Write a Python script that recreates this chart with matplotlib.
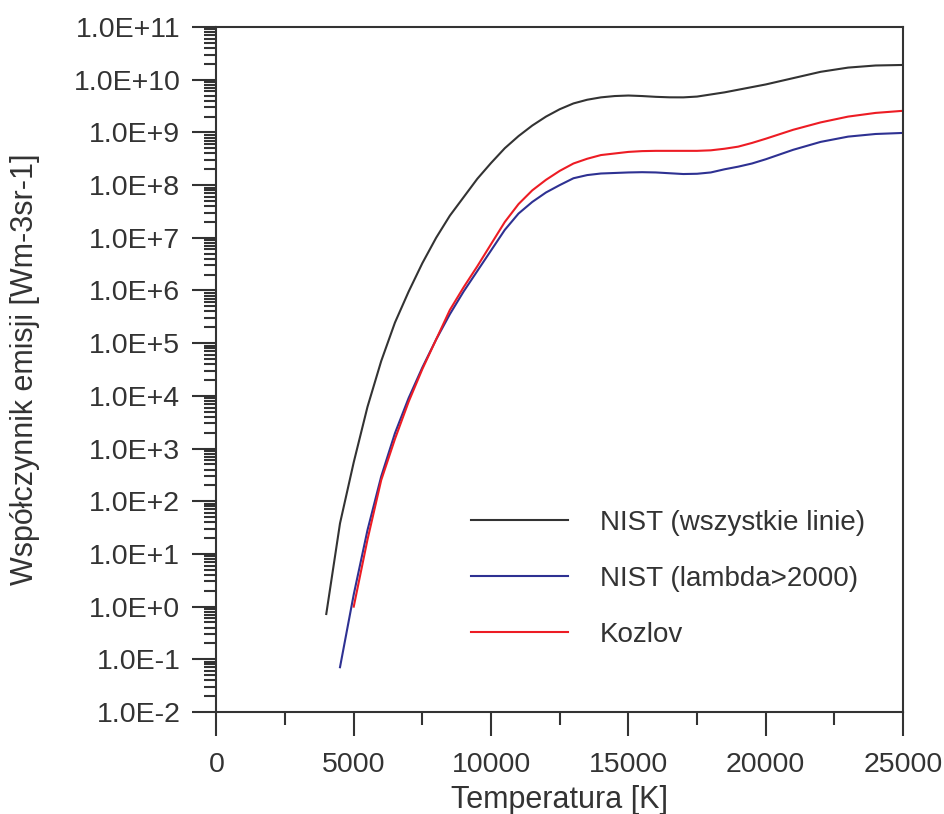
import numpy as np
import matplotlib
matplotlib.use("Agg")
import matplotlib.pyplot as plt
from matplotlib.ticker import FixedLocator, MultipleLocator, LogLocator, FuncFormatter, NullFormatter

plt.rcParams['font.family'] = ['Liberation Sans', 'DejaVu Sans']

# NIST (wszystkie linie) - temperature [K], log10 of emission coefficient
t_nist_all = [4000, 4500, 5000, 5500, 6000, 6500, 7000, 7500, 8000, 8500, 9000, 9500,
              10000, 10500, 11000, 11500, 12000, 12500, 13000, 13500, 14000, 14500,
              15000, 15500, 16000, 16500, 17000, 17500, 18000, 18500, 19000, 19500,
              20000, 21000, 22000, 23000, 24000, 25000]
log_nist_all = [-0.14, 1.58, 2.74, 3.79, 4.66, 5.39, 5.98, 6.52, 7.00, 7.42, 7.77, 8.12,
                8.42, 8.70, 8.93, 9.13, 9.30, 9.44, 9.55, 9.62, 9.665, 9.69,
                9.70, 9.69, 9.675, 9.666, 9.665, 9.68, 9.72, 9.76, 9.81, 9.86,
                9.91, 10.03, 10.15, 10.23, 10.27, 10.28]

# NIST (lambda>2000)
t_nist_2000 = [4500, 5000, 5500, 6000, 6500, 7000, 7500, 8000, 8500, 9000, 9500,
               10000, 10500, 11000, 11500, 12000, 12500, 13000, 13500, 14000, 14500,
               15000, 15500, 16000, 16500, 17000, 17500, 18000, 18500, 19000, 19500,
               20000, 21000, 22000, 23000, 24000, 25000]
log_nist_2000 = [-1.15, 0.23, 1.45, 2.47, 3.29, 3.96, 4.54, 5.07, 5.55, 5.98, 6.37,
                 6.76, 7.15, 7.46, 7.68, 7.86, 8.00, 8.13, 8.19, 8.22, 8.23,
                 8.24, 8.245, 8.24, 8.225, 8.21, 8.215, 8.24, 8.30, 8.35, 8.41,
                 8.49, 8.67, 8.82, 8.92, 8.97, 8.99]

# Kozlov
t_kozlov = [5000, 5500, 6000, 6500, 7000, 7500, 8000, 8500, 9000, 9500,
            10000, 10500, 11000, 11500, 12000, 12500, 13000, 13500, 14000, 14500,
            15000, 15500, 16000, 16500, 17000, 17500, 18000, 18500, 19000, 19500,
            20000, 21000, 22000, 23000, 24000, 25000]
log_kozlov = [0.0, 1.27, 2.40, 3.18, 3.89, 4.51, 5.07, 5.63, 6.06, 6.46,
              6.88, 7.30, 7.64, 7.90, 8.10, 8.27, 8.41, 8.50, 8.57, 8.60,
              8.63, 8.645, 8.65, 8.65, 8.65, 8.65, 8.66, 8.69, 8.73, 8.80,
              8.88, 9.05, 9.19, 9.30, 9.37, 9.41]

labels = ['NIST (wszystkie linie)', 'NIST (lambda>2000)', 'Kozlov']
colors = ['#333333', '#2E3192', '#ED1C24']

fig = plt.figure(figsize=(9.45, 8.14), dpi=100)
ax = fig.add_axes([0.229, 0.1253, 0.7266, 0.8415])

series = [(t_nist_all, log_nist_all), (t_nist_2000, log_nist_2000), (t_kozlov, log_kozlov)]
for (t, lg), lab, c in zip(series, labels, colors):
    ax.plot(t, 10.0 ** np.array(lg), color=c, lw=1.5, label=lab)

ax.set_yscale('log')
ax.set_xlim(0, 25000)
ax.set_ylim(1e-2, 1e11)

ax.xaxis.set_major_locator(MultipleLocator(5000))
ax.xaxis.set_minor_locator(MultipleLocator(2500))
ax.yaxis.set_major_locator(FixedLocator([10.0 ** e for e in range(-2, 12)]))
ax.yaxis.set_minor_locator(LogLocator(base=10, subs=np.arange(2, 10), numticks=30))
ax.yaxis.set_minor_formatter(NullFormatter())
ax.yaxis.set_major_formatter(FuncFormatter(lambda v, p: "1.0E%+d" % int(round(np.log10(v)))))

ax.tick_params(which='major', direction='out', length=17, width=1.5, labelsize=20.5,
               colors='#333333', labelcolor='#333333', pad=9)
ax.tick_params(which='minor', direction='out', length=9, width=1.5, colors='#333333')
ax.tick_params(axis='x', which='major', pad=12)
for s in ax.spines.values():
    s.set_linewidth(1.5)
    s.set_color('#333333')

ax.set_xlabel('Temperatura [K]', fontsize=22, color='#333333', labelpad=5)
ax.set_ylabel('Współczynnik emisji [Wm-3sr-1]', fontsize=22, color='#333333', labelpad=24)

leg = ax.legend(loc='upper left', bbox_to_anchor=(0.498, 0.3735), bbox_transform=fig.transFigure,
                frameon=False, fontsize=20, handlelength=3.5, handletextpad=1.15,
                labelspacing=1.08, borderpad=0, borderaxespad=0)
for txt in leg.get_texts():
    txt.set_color('#333333')

fig.savefig('out.png', dpi=100)
